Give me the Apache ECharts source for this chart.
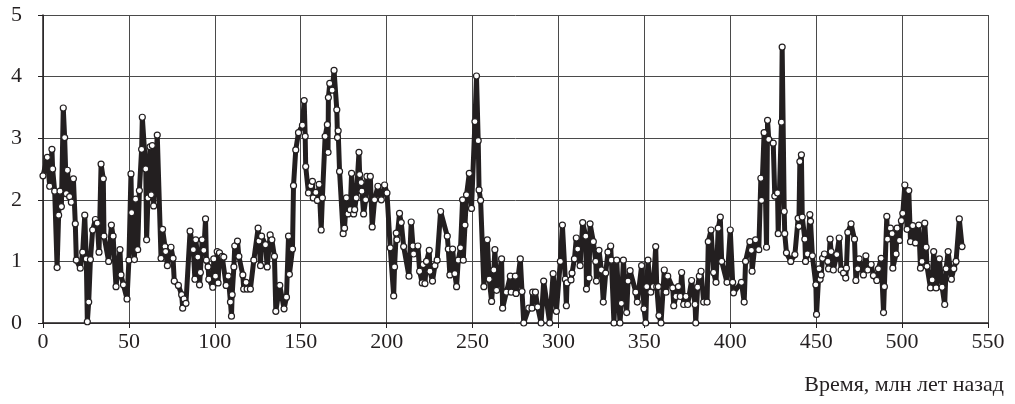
<!DOCTYPE html>
<html>
<head>
<meta charset="utf-8">
<script src="https://cdn.jsdelivr.net/npm/echarts@6/dist/echarts.min.js"></script>
<style>
  html, body { margin: 0; padding: 0; background: #fff; }
  #chart { width: 1015px; height: 404px; }
</style>
</head>
<body>
<div id="chart"></div>
<script>
// время, млн лет назад
const timeMa = [
  0.0, 2.5, 3.9, 5.2, 5.6, 6.8, 8.2, 9.1, 9.9, 10.7, 11.8, 12.6, 13.6, 14.2, 15.5, 16.5, 17.7, 18.8, 19.4, 21.7,
  23.1, 24.3, 25.2, 25.8, 26.6, 27.6, 28.9, 30.5, 31.6, 32.6, 33.8, 35.1, 35.5, 38.2, 39.8, 40.8, 42.5, 44.8, 45.4, 46.8,
  48.9, 50.0, 51.2, 51.6, 53.2, 53.9, 55.1, 56.1, 57.4, 57.8, 59.8, 60.3, 61.1, 62.3, 63.0, 63.6, 64.4, 66.5, 68.7, 69.6,
  71.0, 71.4, 72.4, 74.5, 75.7, 76.4, 78.8, 80.7, 81.3, 82.1, 83.2, 85.6, 87.5, 88.4, 88.9, 90.1, 91.1, 91.6, 92.6, 93.6,
  94.6, 95.1, 96.1, 96.5, 98.8, 99.4, 100.4, 101.4, 101.9, 102.7, 104.3, 105.2, 106.6, 107.8, 109.1, 109.7, 110.1, 111.1, 111.6, 113.2,
  114.0, 116.3, 116.8, 118.2, 118.8, 120.7, 122.7, 125.2, 125.7, 126.6, 127.2, 129.5, 130.5, 132.2, 133.2, 134.7, 135.5, 137.8, 140.3, 141.7,
  142.9, 143.4, 145.2, 145.8, 147.1, 148.7, 151.0, 152.0, 152.6, 152.9, 154.5, 155.9, 156.8, 157.3, 158.8, 159.7, 160.7, 161.9, 162.6, 164.2,
  165.5, 165.9, 166.1, 166.9, 168.3, 169.4, 171.0, 171.4, 171.8, 172.6, 174.7, 175.5, 176.6, 177.5, 178.8, 179.6, 180.8, 181.4, 182.3, 183.9,
  184.3, 185.2, 185.6, 186.6, 187.8, 188.5, 190.5, 191.6, 193.0, 194.9, 196.9, 198.8, 200.2, 202.1, 204.1, 204.6, 205.6, 206.0, 207.5, 208.5,
  209.9, 213.0, 214.3, 215.3, 215.7, 218.2, 219.2, 220.7, 221.3, 222.3, 223.2, 224.8, 225.2, 226.7, 228.1, 229.4, 231.4, 235.3, 235.9, 236.8,
  238.4, 239.7, 240.7, 241.7, 243.0, 244.2, 244.6, 245.6, 246.5, 248.1, 249.4, 251.4, 252.3, 253.3, 253.8, 254.7, 256.6, 258.6, 259.7, 261.1,
  262.4, 263.0, 264.0, 266.9, 267.5, 269.7, 272.0, 272.5, 274.9, 275.3, 277.8, 278.8, 279.8, 282.7, 284.6, 285.0, 286.6, 287.9, 289.9, 291.4,
  294.9, 296.9, 298.8, 301.1, 302.3, 304.0, 304.6, 305.0, 307.3, 307.9, 309.3, 310.4, 311.2, 312.6, 314.1, 315.9, 316.3, 317.8, 318.4, 320.3,
  321.7, 322.1, 323.6, 325.0, 326.1, 327.5, 328.8, 330.4, 330.8, 332.3, 333.9, 335.8, 336.6, 337.8, 339.7, 340.5, 341.7, 345.0, 345.9, 348.4,
  349.8, 350.8, 351.4, 352.1, 353.7, 355.2, 356.6, 357.2, 358.1, 358.5, 359.7, 361.6, 362.6, 363.6, 366.5, 367.1, 368.4, 369.8, 370.9, 371.7,
  372.9, 374.2, 375.2, 377.5, 379.5, 379.9, 381.0, 382.0, 383.0, 384.5, 386.5, 387.2, 388.8, 390.3, 391.7, 393.0, 394.2, 395.0, 398.1, 400.0,
  401.4, 401.9, 406.5, 408.1, 408.9, 411.4, 412.3, 412.7, 414.7, 416.6, 417.8, 418.2, 419.7, 421.1, 421.7, 422.4, 425.0, 425.9, 427.5, 427.9,
  429.8, 430.2, 431.4, 431.7, 432.7, 435.2, 437.6, 439.5, 439.9, 440.5, 441.4, 441.9, 443.4, 443.8, 444.9, 446.3, 446.7, 447.8, 449.8, 450.2,
  451.7, 452.3, 452.9, 453.7, 454.8, 456.8, 457.2, 458.1, 458.7, 460.0, 462.0, 463.4, 464.5, 465.9, 467.2, 467.6, 468.4, 470.3, 472.3, 473.1,
  474.2, 475.0, 477.5, 478.9, 480.0, 482.0, 483.3, 485.3, 486.2, 487.8, 489.2, 489.7, 491.1, 491.5, 493.2, 494.2, 494.6, 496.5, 497.1, 498.5,
  499.6, 500.4, 501.6, 502.9, 503.9, 504.9, 506.2, 507.8, 509.7, 510.7, 511.6, 513.2, 514.0, 514.5, 516.5, 517.5, 518.4, 519.8, 521.7, 523.3,
  524.8, 525.6, 526.8, 528.7, 530.1, 531.4, 533.3, 534.9
]
const values = [
  2.39, 2.69, 2.22, 2.82, 2.50, 2.14, 0.90, 1.75, 2.14, 1.89, 3.49, 3.01, 2.10, 2.48, 2.05, 1.96, 2.34, 1.61, 1.02, 0.89,
  1.15, 1.75, 1.04, 0.02, 0.34, 1.03, 1.51, 1.68, 1.62, 1.15, 2.58, 2.34, 1.41, 1.00, 1.59, 1.41, 0.59, 1.19, 0.78, 0.62,
  0.39, 1.02, 2.42, 1.79, 1.03, 2.01, 1.19, 2.15, 2.82, 3.34, 2.50, 1.35, 2.03, 2.86, 2.08, 2.88, 1.90, 3.05, 1.05, 1.52,
  1.24, 1.16, 0.93, 1.23, 1.05, 0.68, 0.61, 0.46, 0.24, 0.39, 0.32, 1.49, 1.19, 0.71, 1.35, 1.07, 0.62, 0.82, 1.35, 1.18,
  1.69, 1.02, 0.91, 0.71, 0.58, 1.04, 0.76, 1.16, 0.65, 1.14, 1.08, 1.07, 0.61, 0.76, 0.34, 0.11, 0.46, 0.91, 1.25, 1.33,
  1.08, 0.78, 0.55, 0.66, 0.55, 0.55, 1.02, 1.54, 1.33, 0.93, 1.41, 1.27, 0.91, 1.43, 1.35, 1.08, 0.19, 0.61, 0.23, 0.42,
  1.41, 0.79, 1.20, 2.23, 2.81, 3.09, 3.21, 3.61, 3.03, 2.54, 2.11, 2.23, 2.30, 2.03, 2.12, 1.99, 2.25, 1.51, 2.03, 3.03,
  3.22, 2.77, 3.66, 3.89, 3.78, 4.10, 3.46, 3.01, 3.12, 2.46, 1.45, 1.54, 2.03, 1.77, 1.84, 2.43, 1.77, 1.84, 2.03, 2.77,
  2.41, 2.28, 2.14, 1.77, 2.00, 2.38, 2.38, 1.56, 2.00, 2.22, 2.00, 2.24, 2.11, 1.22, 0.44, 0.91, 1.46, 1.35, 1.78, 1.63,
  1.24, 0.76, 1.64, 1.25, 1.12, 1.25, 0.84, 0.65, 0.95, 0.64, 1.00, 1.18, 0.84, 0.68, 0.93, 1.02, 1.81, 1.41, 1.20, 0.78,
  1.20, 0.80, 0.59, 1.02, 1.22, 2.00, 1.02, 1.59, 2.08, 2.43, 1.86, 3.27, 4.01, 2.96, 2.16, 1.99, 0.59, 1.35, 0.71, 0.35,
  0.86, 1.19, 0.53, 1.04, 0.24, 0.50, 0.76, 0.50, 0.76, 0.48, 1.04, 0.51, 0.00, 0.24, 0.24, 0.50, 0.50, 0.26, 0.00, 0.68,
  0.00, 0.80, 0.19, 1.00, 1.59, 0.71, 0.28, 0.65, 0.70, 0.81, 1.04, 1.38, 1.20, 0.93, 1.63, 1.41, 0.55, 0.73, 1.61, 1.32,
  1.00, 0.68, 1.18, 0.86, 0.34, 0.81, 1.15, 1.25, 1.02, 0.00, 1.02, 0.00, 0.32, 1.02, 0.17, 0.68, 0.85, 0.50, 0.34, 0.93,
  0.23, 0.00, 0.59, 1.02, 0.50, 0.59, 1.24, 0.59, 0.59, 0.12, 0.00, 0.86, 0.50, 0.76, 0.57, 0.28, 0.43, 0.59, 0.43, 0.82,
  0.30, 0.43, 0.30, 0.69, 0.30, 0.00, 0.58, 0.76, 0.84, 0.34, 0.34, 1.32, 1.51, 0.82, 0.66, 1.54, 1.72, 1.00, 0.66, 1.51,
  0.66, 0.49, 0.66, 0.34, 1.00, 1.32, 1.18, 0.84, 1.35, 1.19, 2.35, 1.99, 3.09, 1.23, 3.29, 2.98, 2.92, 2.06, 2.11, 1.45,
  3.26, 4.48, 1.81, 1.45, 1.14, 1.00, 1.11, 1.70, 1.57, 2.62, 2.73, 1.72, 1.36, 1.00, 1.12, 1.76, 1.65, 1.09, 0.62, 0.14,
  0.88, 0.71, 0.78, 1.05, 1.12, 1.00, 0.88, 1.36, 1.16, 0.86, 1.11, 1.38, 0.86, 0.81, 0.73, 0.89, 1.47, 1.61, 1.36, 0.69,
  0.88, 1.04, 0.78, 1.09, 0.86, 0.95, 0.77, 0.69, 0.88, 1.05, 0.17, 0.59, 1.73, 1.36, 1.54, 1.45, 0.89, 1.12, 1.54, 1.34,
  1.66, 1.78, 2.24, 1.52, 2.15, 1.32, 1.58, 1.30, 1.59, 0.89, 1.00, 1.62, 1.23, 0.92, 0.57, 0.70, 1.16, 0.57, 1.04, 0.58,
  0.30, 0.88, 1.16, 0.71, 0.88, 1.00, 1.69, 1.24
]
const xTicks = [0, 50, 100, 150, 200, 250, 300, 350, 400, 450, 500, 550]
const yTicks = [0, 1, 2, 3, 4, 5]
const axisTitle = 'Время, млн лет назад'

const points = timeMa.map((t, i) => [t, values[i]])
const serif = '"Liberation Serif", "DejaVu Serif", serif'

let chart = echarts.init(document.getElementById('chart'))
chart.setOption({
  animation: false,
  backgroundColor: '#fff',
  grid: { left: 43, right: 27, top: 15, bottom: 81 },
  title: {
    text: axisTitle,
    right: 6,
    top: 369,
    textStyle: { fontFamily: serif, fontSize: 22, fontWeight: 'normal', color: '#231f20' }
  },
  xAxis: {
    type: 'value',
    min: xTicks[0],
    max: xTicks[xTicks.length - 1],
    interval: 50,
    axisLine: { lineStyle: { color: '#231f20', width: 1.5 } },
    axisTick: { show: true, length: 5, lineStyle: { color: '#231f20' } },
    axisLabel: { fontFamily: serif, fontSize: 22, color: '#231f20', margin: 8 },
    splitLine: { show: true, lineStyle: { color: '#4a4a4a', width: 1 } }
  },
  yAxis: {
    type: 'value',
    min: yTicks[0],
    max: yTicks[yTicks.length - 1],
    interval: 1,
    axisLine: { show: true, lineStyle: { color: '#231f20', width: 1.5 } },
    axisTick: { show: true, length: 5, lineStyle: { color: '#231f20' } },
    axisLabel: { fontFamily: serif, fontSize: 22, color: '#231f20', margin: 21 },
    splitLine: { show: true, lineStyle: { color: '#4a4a4a', width: 1 } }
  },
  series: [{
    type: 'line',
    data: points,
    symbol: 'circle',
    symbolSize: 6,
    showAllSymbol: true,
    lineStyle: { color: '#231f20', width: 5, join: 'round' },
    itemStyle: { color: '#ffffff', borderColor: '#231f20', borderWidth: 1.2 },
    z: 3
  }]
})
</script>
</body>
</html>
